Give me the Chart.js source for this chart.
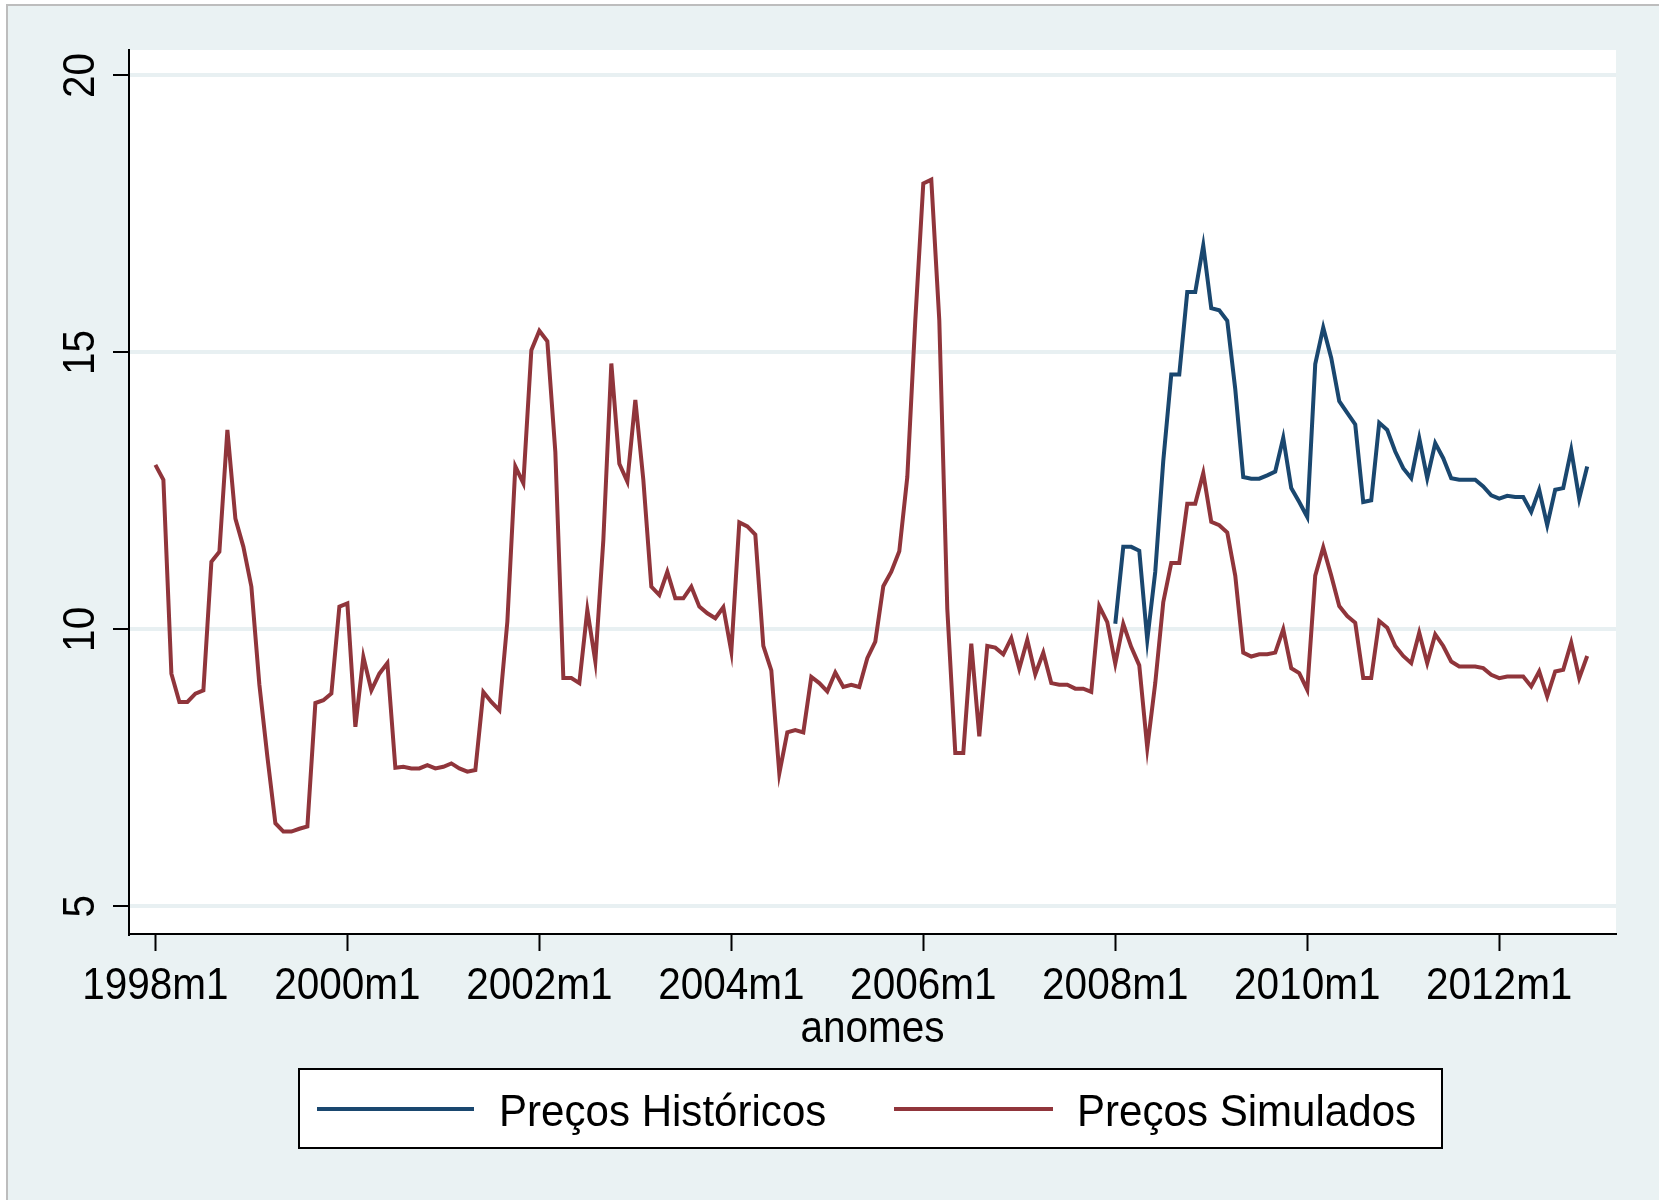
<!DOCTYPE html>
<html>
<head>
<meta charset="utf-8">
<title>Preços Históricos e Simulados</title>
<script src="https://cdn.jsdelivr.net/npm/chart.js@4.4.1/dist/chart.umd.min.js"></script>
<style>
  html, body { margin: 0; padding: 0; background: #ffffff; }
  #wrap { width: 1659px; height: 1200px; }
</style>
</head>
<body>
<div id="wrap"><canvas id="grafico" width="1659" height="1200"></canvas></div>
<script>
// séries mensais, primeiro mês = 1998m1
const anoInicial = 1998;

const simulados = [
    12.97, 12.70, 9.20, 8.69, 8.69, 8.84, 8.90, 11.22, 11.40, 13.60, 12.00, 11.49,
    10.77, 9.00, 7.70, 6.50, 6.35, 6.35, 6.40, 6.44, 8.67, 8.72, 8.84, 10.41,
    10.47, 8.24, 9.50, 8.90, 9.20, 9.39, 7.50, 7.52, 7.49, 7.49, 7.55, 7.49,
    7.52, 7.58, 7.49, 7.43, 7.46, 8.87, 8.69, 8.54, 10.14, 12.94, 12.64, 15.04,
    15.39, 15.20, 13.20, 9.12, 9.12, 9.03, 10.35, 9.42, 11.61, 14.80, 12.99, 12.67,
    14.14, 12.70, 10.77, 10.62, 11.04, 10.56, 10.56, 10.77, 10.41, 10.29, 10.20, 10.40,
    9.60, 11.93, 11.86, 11.71, 9.70, 9.26, 7.40, 8.14, 8.18, 8.14, 9.14, 9.03,
    8.88, 9.22, 8.96, 9.00, 8.96, 9.48, 9.78, 10.78, 11.04, 11.41, 12.75, 15.58,
    18.05, 18.12, 15.58, 10.37, 7.77, 7.77, 9.74, 8.07, 9.70, 9.67, 9.55, 9.84,
    9.29, 9.81, 9.19, 9.58, 9.03, 9.00, 9.00, 8.93, 8.93, 8.87, 10.42, 10.13,
    9.38, 10.10, 9.68, 9.35, 7.86, 9.03, 10.49, 11.20, 11.20, 12.27, 12.27, 12.82,
    11.94, 11.88, 11.75, 10.97, 9.58, 9.51, 9.55, 9.55, 9.58, 10.00, 9.30, 9.21,
    8.91, 10.97, 11.48, 10.97, 10.42, 10.24, 10.12, 9.12, 9.12, 10.15, 10.03, 9.70,
    9.52, 9.39, 9.94, 9.39, 9.91, 9.70, 9.42, 9.33, 9.33, 9.33, 9.30, 9.18,
    9.12, 9.15, 9.15, 9.15, 8.97, 9.24, 8.79, 9.24, 9.27, 9.76, 9.12, 9.52
];

// preços históricos só existem a partir de 2008m1
const inicioHistoricos = '2008m1';
const historicos = [
    10.10, 11.49, 11.49, 11.42, 9.81, 11.04, 13.04, 14.60, 14.60, 16.09, 16.09, 16.93,
    15.80, 15.76, 15.57, 14.34, 12.75, 12.72, 12.72, 12.78, 12.85, 13.46, 12.55, 12.30,
    12.03, 14.79, 15.45, 14.90, 14.12, 13.91, 13.70, 12.30, 12.33, 13.73, 13.60, 13.21,
    12.91, 12.73, 13.45, 12.73, 13.36, 13.09, 12.73, 12.70, 12.70, 12.70, 12.58, 12.42,
    12.36, 12.41, 12.39, 12.39, 12.12, 12.52, 11.88, 12.52, 12.55, 13.24, 12.36, 12.94
];

const nomesSeries = ['Preços Históricos', 'Preços Simulados'];
const xTickLabels = ['1998m1', '2000m1', '2002m1', '2004m1', '2006m1', '2008m1', '2010m1', '2012m1'];
const yTicks = [5, 10, 15, 20];
const tituloX = 'anomes';

// "2008m1" -> índice do mês a partir de anoInicial
function mesIndice(rotulo) {
    const partes = rotulo.split('m');
    return (parseInt(partes[0]) - anoInicial) * 12 + parseInt(partes[1]) - 1;
}

const xTickPos = xTickLabels.map(mesIndice);
const h0 = mesIndice(inicioHistoricos);

const pontosSim = simulados.map((v, i) => ({ x: i, y: v }));
const pontosHist = historicos.map((v, i) => ({ x: h0 + i, y: v }));

const FONTE = '"Liberation Sans", Arial, sans-serif';

// texto um pouco condensado, como o original
function texto(ctx, txt, x, y, align, estreito) {
    ctx.save();
    ctx.translate(x, y);
    ctx.scale(estreito, 1);
    ctx.textAlign = align;
    ctx.textBaseline = 'alphabetic';
    ctx.fillText(txt, 0, 0);
    ctx.restore();
}

const fundo = {
    id: 'fundo',
    beforeDraw(chart) {
        const ctx = chart.ctx;
        const a = chart.chartArea;
        ctx.save();
        ctx.fillStyle = '#ffffff';
        ctx.fillRect(0, 0, chart.width, chart.height);
        ctx.fillStyle = '#eaf2f3';
        ctx.fillRect(7, 5, chart.width - 7, chart.height - 5);
        ctx.strokeStyle = '#bdbdbd';
        ctx.lineWidth = 2;
        ctx.beginPath();
        ctx.moveTo(7, chart.height);
        ctx.lineTo(7, 5);
        ctx.lineTo(chart.width, 5);
        ctx.stroke();
        ctx.fillStyle = '#ffffff';
        ctx.fillRect(a.left, a.top, a.right - a.left, a.bottom - a.top);
        ctx.restore();
    }
};

const rotulos = {
    id: 'rotulos',
    afterDraw(chart) {
        const ctx = chart.ctx;
        const a = chart.chartArea;
        const sx = chart.scales.x;
        const sy = chart.scales.y;
        ctx.save();
        ctx.fillStyle = '#000000';
        ctx.font = '45px ' + FONTE;

        // eixo y: rótulos girados
        yTicks.forEach(v => {
            const py = sy.getPixelForValue(v);
            ctx.save();
            ctx.translate(94, py);
            ctx.rotate(-Math.PI / 2);
            ctx.scale(0.9, 1);
            ctx.textAlign = 'center';
            ctx.fillText(String(v), 0, 0);
            ctx.restore();
        });

        // eixo x
        xTickLabels.forEach((lab, k) => {
            texto(ctx, lab, sx.getPixelForValue(xTickPos[k]), 999, 'center', 0.9);
        });
        texto(ctx, tituloX, (a.left + a.right) / 2, 1042, 'center', 0.9);

        // legenda
        ctx.fillStyle = '#ffffff';
        ctx.fillRect(299, 1069, 1143, 79);
        ctx.strokeStyle = '#000000';
        ctx.lineWidth = 2;
        ctx.strokeRect(299, 1069, 1143, 79);
        const itens = [
            { x1: 317, x2: 474, tx: 499 },
            { x1: 894, x2: 1053, tx: 1077 }
        ];
        chart.data.datasets.forEach((ds, k) => {
            const it = itens[k];
            ctx.strokeStyle = ds.borderColor;
            ctx.lineWidth = 4;
            ctx.beginPath();
            ctx.moveTo(it.x1, 1109);
            ctx.lineTo(it.x2, 1109);
            ctx.stroke();
            ctx.fillStyle = '#000000';
            texto(ctx, ds.label, it.tx, 1126, 'left', 0.935);
        });
        ctx.restore();
    }
};

new Chart(document.getElementById('grafico'), {
    type: 'line',
    data: {
        datasets: [
            {
                label: nomesSeries[0],
                data: pontosHist,
                borderColor: '#1a476f',
                borderWidth: 4,
                pointRadius: 0,
                tension: 0,
                fill: false
            },
            {
                label: nomesSeries[1],
                data: pontosSim,
                borderColor: '#90353b',
                borderWidth: 4,
                pointRadius: 0,
                tension: 0,
                fill: false
            }
        ]
    },
    options: {
        responsive: false,
        animation: false,
        events: [],
        layout: { padding: { left: 0, top: 50, right: 43, bottom: 0 } },
        plugins: {
            legend: { display: false },
            title: { display: false },
            tooltip: { enabled: false }
        },
        scales: {
            x: {
                type: 'linear',
                min: -3.3,
                max: 182.6,
                afterBuildTicks: s => { s.ticks = xTickPos.map(v => ({ value: v })); },
                afterFit: s => { s.height = 266; },
                ticks: { display: false },
                grid: {
                    drawOnChartArea: false,
                    drawTicks: true,
                    tickLength: 17,
                    tickColor: '#000000',
                    tickWidth: 2
                },
                border: { display: true, color: '#000000', width: 2 }
            },
            y: {
                type: 'linear',
                min: 4.5,
                max: 20.46,
                afterBuildTicks: s => { s.ticks = yTicks.map(v => ({ value: v })); },
                afterFit: s => { s.width = 129; },
                ticks: { display: false },
                grid: {
                    color: '#e8f0f2',
                    lineWidth: 4,
                    drawTicks: true,
                    tickLength: 16,
                    tickColor: '#000000',
                    tickWidth: 2
                },
                border: { display: true, color: '#000000', width: 2 }
            }
        }
    },
    plugins: [fundo, rotulos]
});
</script>
</body>
</html>
